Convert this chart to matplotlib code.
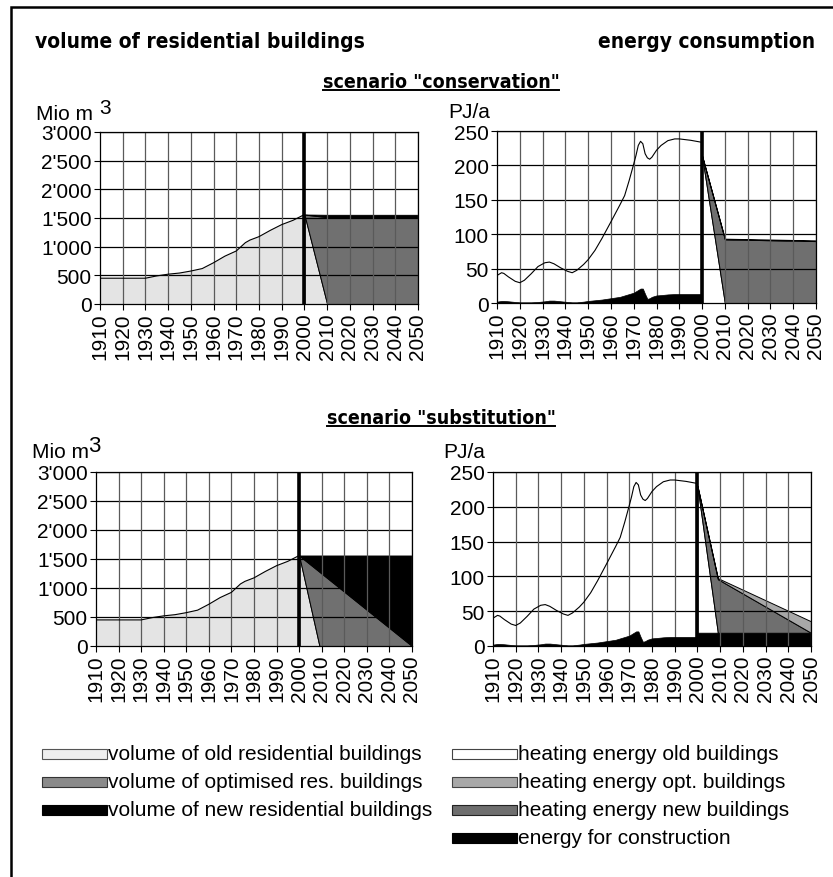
import matplotlib
matplotlib.use('Agg')
import numpy as np
import matplotlib.pyplot as plt
from matplotlib import font_manager
from matplotlib.font_manager import FontProperties
from matplotlib.patches import Rectangle
from matplotlib.lines import Line2D
from matplotlib.ticker import FuncFormatter

W, H = 833, 878

# ---------------- data ----------------
year_ticks = list(range(1910, 2051, 10))

vol_hist_years = [1910, 1920, 1930, 1935, 1940, 1945, 1950, 1955, 1960, 1965,
                  1970, 1974, 1976, 1980, 1985, 1990, 1995, 2000]
vol_old_hist = [450, 450, 450, 490, 520, 540, 575, 618, 720, 835,
                925, 1070, 1115, 1175, 1285, 1385, 1460, 1560]

cons_years = [2000, 2010, 2050]
vol_old_cons = [1560, 0, 0]
vol_opt_cons = [0, 1515, 1515]
vol_new_cons = [0, 40, 40]

subs_years = [2000, 2009, 2050]
vol_old_subs = [1560, 0, 0]
vol_opt_subs = [0, 1280, 0]
vol_new_subs = [0, 280, 1560]

en_hist_years = [1910, 1912, 1913, 1915, 1918, 1920, 1922, 1925, 1928, 1931,
                 1933, 1935, 1938, 1941, 1943, 1945, 1948, 1950, 1953, 1956,
                 1960, 1964, 1966, 1968, 1970, 1971, 1972, 1973, 1974, 1975,
                 1976, 1977, 1978, 1980, 1982, 1985, 1988, 1990, 1995, 2000]
heat_old_hist = [38, 41, 40, 35.5, 30, 28.5, 32, 41.5, 51.5, 56,
                 56, 53.5, 48.5, 44.5, 43, 46.5, 54, 60, 72.5, 88.5,
                 111, 134, 145, 165, 187, 197.5, 210, 214, 210.5, 204,
                 205, 202, 203, 211, 217.5, 223.5, 225.5, 225.5, 223.5, 220.5]
constr_hist = [2, 3, 3, 2.5, 1.5, 1, 1, 1, 1.5, 2.5,
               3.5, 3.5, 2.5, 1.5, 1, 1, 2, 3, 4, 5,
               7, 9, 11, 13, 15, 17, 19, 21, 21, 13,
               6, 7, 9, 11, 11.5, 12.5, 13, 13, 13, 13]

constr_cons = [0, 0, 0]
heat_old_cons = [214, 0, 0]
heat_new_cons = [0, 92.5, 90]
heat_opt_cons = [0, 1, 1]

constr_subs = [19, 19, 19]
heat_old_subs = [211, 0, 0]
heat_new_subs = [0, 77, 0]
heat_opt_subs = [0, 1.5, 16.5]

# ---------------- styling ----------------
C_VOL_OLD = '#e4e4e4'
C_VOL_OPT = '#707070'
C_NEW = '#000000'
C_HEAT_OPT = '#a8a8a8'
C_HEAT_NEW = '#6f6f6f'

avail = {f.name for f in font_manager.fontManager.ttflist}
BASE = 'Liberation Sans' if 'Liberation Sans' in avail else 'DejaVu Sans'
plt.rcParams['font.family'] = [BASE, 'DejaVu Sans']


def find_narrow_bold():
    prefs = ['LiberationSansNarrow-Bold', 'NotoSans-CondensedBold',
             'DejaVuSansCondensed-Bold']
    files = [f.fname for f in font_manager.fontManager.ttflist]
    for p in prefs:
        for fn in files:
            if fn.split('/')[-1].startswith(p + '.'):
                return fn
    return None


NARROW_FILE = find_narrow_bold()


def title_props(size):
    if NARROW_FILE:
        return FontProperties(fname=NARROW_FILE, size=size)
    return FontProperties(family=BASE, weight='bold', size=size * 0.9)


TICK_FS = 15
fig = plt.figure(figsize=(W / 100, H / 100), dpi=100)


def px_axes(x0, y0, x1, y1):
    return fig.add_axes([x0 / W, 1 - y1 / H, (x1 - x0) / W, (y1 - y0) / H])


def ftxt(x, y, s, **kw):
    return fig.text(x / W, 1 - y / H, s, **kw)


def style_axes(ax, ymax, ystep, fmt):
    ax.set_xlim(1910, 2050)
    ax.set_ylim(0, ymax)
    ax.set_xticks(year_ticks)
    ax.set_xticklabels([str(y) for y in year_ticks], rotation=90)
    ax.set_yticks(np.arange(0, ymax + 1, ystep))
    ax.yaxis.set_major_formatter(FuncFormatter(fmt))
    for y in np.arange(ystep, ymax + 1, ystep):
        ax.axhline(y, color='black', lw=0.9, zorder=3)
    for x in year_ticks[1:]:
        ax.axvline(x, color='#5a5a5a', lw=0.9, zorder=3)
    ax.axvline(2000, color='black', lw=2.6, zorder=5)
    ax.tick_params(axis='both', direction='out', length=4, width=0.8,
                   labelsize=TICK_FS, pad=2)
    for sp in ax.spines.values():
        sp.set_color('black')
        sp.set_linewidth(0.9)
        sp.set_zorder(6)


def thousands(v, pos):
    v = int(round(v))
    return "{:,}".format(v).replace(',', "'")


def plain(v, pos):
    return str(int(round(v)))


def stack(ax, years, layers, colors):
    base = np.zeros(len(years))
    for vals, col in zip(layers, colors):
        top = base + np.asarray(vals, float)
        ax.fill_between(years, base, top, facecolor=col, edgecolor='black',
                        lw=0.7, zorder=2)
        base = top


def volume_chart(ax, fut_years, old, opt, new):
    ax.fill_between(vol_hist_years, 0, vol_old_hist, facecolor=C_VOL_OLD,
                    edgecolor='none', zorder=2)
    ax.plot(vol_hist_years, vol_old_hist, color='black', lw=0.8, zorder=4)
    stack(ax, fut_years, [old, opt, new], [C_VOL_OLD, C_VOL_OPT, C_NEW])
    style_axes(ax, 3000, 500, thousands)


def energy_chart(ax, fut_years, constr, old, new, opt):
    top = np.asarray(constr_hist) + np.asarray(heat_old_hist)
    ax.fill_between(en_hist_years, constr_hist, top, facecolor='white',
                    edgecolor='none', zorder=2)
    ax.plot(en_hist_years, top, color='black', lw=0.8, zorder=4)
    ax.fill_between(en_hist_years, 0, constr_hist, facecolor='black',
                    edgecolor='black', lw=0.5, zorder=4)
    stack(ax, fut_years, [constr, old, new, opt],
          [C_NEW, 'white', C_HEAT_NEW, C_HEAT_OPT])
    style_axes(ax, 250, 50, plain)


ax1 = px_axes(100, 133, 418, 305)
volume_chart(ax1, cons_years, vol_old_cons, vol_opt_cons, vol_new_cons)
ax2 = px_axes(497, 132, 816, 304)
energy_chart(ax2, cons_years, constr_cons, heat_old_cons, heat_new_cons, heat_opt_cons)
ax3 = px_axes(96, 473, 412, 647)
volume_chart(ax3, subs_years, vol_old_subs, vol_opt_subs, vol_new_subs)
ax4 = px_axes(493, 473, 811, 647)
energy_chart(ax4, subs_years, constr_subs, heat_old_subs, heat_new_subs, heat_opt_subs)

# ---------------- texts ----------------
ftxt(35, 42, 'volume of residential buildings', fontproperties=title_props(15),
     va='center', ha='left')
ftxt(815, 42, 'energy consumption', fontproperties=title_props(15),
     va='center', ha='right')
sc1 = ftxt(441, 82, 'scenario "conservation"', fontproperties=title_props(14),
           va='center', ha='center')
sc2 = ftxt(441, 418, 'scenario "substitution"', fontproperties=title_props(14),
           va='center', ha='center')

ftxt(36, 114, 'Mio m', fontsize=TICK_FS, va='center', ha='left')
ftxt(99, 108, '3', fontsize=TICK_FS, va='center', ha='left')
ftxt(32, 453, 'Mio m', fontsize=TICK_FS, va='center', ha='left')
ftxt(88, 446, '3', fontsize=TICK_FS + 1, va='center', ha='left')
ftxt(448, 113, 'PJ/a', fontsize=TICK_FS, va='center', ha='left')
ftxt(443, 453, 'PJ/a', fontsize=TICK_FS, va='center', ha='left')

# underline scenario titles
fig.canvas.draw()
r = fig.canvas.get_renderer()
for t in (sc1, sc2):
    bb = t.get_window_extent(renderer=r)
    fig.add_artist(Line2D([bb.x0 / W, bb.x1 / W], [(bb.y0 + 1) / H] * 2,
                          color='black', lw=1.4, transform=fig.transFigure))

# ---------------- legend ----------------
legend_left = [('volume of old residential buildings', '#efefef', '#555555'),
               ('volume of optimised res. buildings', '#8a8a8a', '#333333'),
               ('volume of new residential buildings', '#000000', '#000000')]
legend_right = [('heating energy old buildings', '#ffffff', '#444444'),
                ('heating energy opt. buildings', '#a8a8a8', '#444444'),
                ('heating energy new buildings', '#6e6e6e', '#222222'),
                ('energy for construction', '#000000', '#000000')]
row_y = [755, 783, 811, 839]


def legend_col(x, entries):
    for (lab, fc, ec), y in zip(entries, row_y):
        fig.add_artist(Rectangle((x / W, 1 - (y + 5) / H), 65 / W, 10 / H,
                                 facecolor=fc, edgecolor=ec, lw=0.8,
                                 transform=fig.transFigure))
        ftxt(x + 66, y, lab, fontsize=TICK_FS, va='center', ha='left')


legend_col(42, legend_left)
legend_col(452, legend_right)

# outer frame
fig.add_artist(Rectangle((11 / W, -0.05), 1.1, 1 - 8 / H + 0.05, fill=False,
                         edgecolor='black', lw=1.8, transform=fig.transFigure))

fig.savefig('out.png', dpi=100)
